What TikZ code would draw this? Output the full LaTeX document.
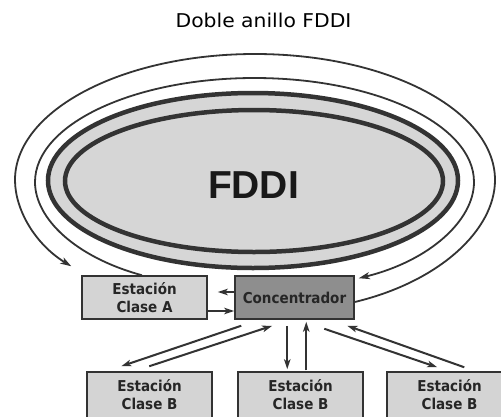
\documentclass[tikz,border=0pt]{standalone}
\usepackage{fontspec}
\usetikzlibrary{arrows.meta}
\newfontfamily\titlefont{DejaVu Sans}
\newfontfamily\stationfont{DejaVu Sans Condensed}
\newfontfamily\ringfont{Liberation Sans}
\definecolor{ink}{HTML}{333333}
\definecolor{ringfill}{HTML}{D6D6D6}
\definecolor{boxfill}{HTML}{D4D4D4}
\definecolor{hubfill}{HTML}{8E8E8E}
\tikzset{
  station/.style={draw=ink, line width=1.5pt, fill=boxfill, minimum width=125pt,
    minimum height=43pt, inner sep=0pt, align=center, text=black!85,
    font=\stationfont\bfseries\fontsize{15}{18}\selectfont},
  hub/.style={station, fill=hubfill, minimum width=119pt},
  link/.style={draw=ink, line width=2pt, -{Stealth[length=10pt,width=6.5pt,inset=2.5pt]}},
  ring/.style={draw=ink, line width=1.8pt},
  ringarrow/.style={ring, -{Stealth[length=11pt,width=7pt,inset=3pt]}},
}
\begin{document}
\begin{tikzpicture}[x=1pt,y=-1pt]
\useasboundingbox (0,0) rectangle (501,416);
\clip (0,0) rectangle (501,416);
\fill[white] (0,0) rectangle (501,416);

% title
\node[anchor=base, font=\titlefont\fontsize{19}{22}\selectfont] (title) at (263.5,27)
  {\scalebox{1.07}[1]{Doble anillo FDDI}};

% double ring
\draw[draw=ink, fill=ringfill, line width=4.5pt] (253,180.5) ellipse [x radius=205, y radius=87.5];
\draw[draw=ink, line width=4.5pt] (254,181) ellipse [x radius=189, y radius=71];
\node[anchor=base, font=\ringfont\bfseries\fontsize{39}{44}\selectfont, text=black!90] (fddi) at (253.5,198) {FDDI};

% stations and concentrator
\node[station] (A) at (144.5,297.5) {Estación\\Clase A};
\node[hub] (C) at (294.5,297.5) {Concentrador};
\node[station, minimum height=46pt] (B1) at (149.5,395) {Estación\\Clase B};
\node[station, minimum height=46pt] (B2) at (300.5,395) {Estación\\Clase B};
\node[station, minimum height=46pt] (B3) at (449.5,395) {Estación\\Clase B};

% ring ends
\coordinate (outS) at ([yshift=-4.5pt]C.east);
\coordinate (outE) at ([shift={(-10,-9)}]A.north west);
\coordinate (inS) at ([xshift=-2.5pt]A.north);
\coordinate (inE) at ([shift={(4,3)}]C.north east);

% outer ring: concentrator -> around -> station A
\draw[ringarrow] (outS) .. controls (439.6,281.7) and (495,229.8) .. (495,180)
  .. controls (495,110.4) and (387.6,54) .. (255,54)
  .. controls (122.4,54) and (15,110.4) .. (15,180)
  .. controls (15,209.8) and (35.2,244.2) .. (outE);
% inner ring: station A -> around -> concentrator
\draw[ringarrow] (inS) .. controls (75.6,257.2) and (35,218.6) .. (35,182)
  .. controls (35,124.6) and (133.3,78) .. (254.5,78)
  .. controls (375.7,78) and (474,124.6) .. (474,182)
  .. controls (474,220.4) and (429.4,260.9) .. (inE);

% links between station A and concentrator
\draw[link] ([yshift=5.5pt]C.west) -- ([yshift=5.5pt,xshift=10pt]A.east);
\draw[link] ([yshift=-13.5pt]A.east) -- ([yshift=-13.5pt]C.west);

% link end points below the concentrator
\coordinate (l1a) at ([shift={(7,6)}]C.south west);
\coordinate (l2b) at ([shift={(38,6)}]C.south west);
\coordinate (m1a) at ([shift={(53,6)}]C.south west);
\coordinate (m2b) at ([shift={(72,2)}]C.south west);
\coordinate (r1a) at ([shift={(90,9)}]C.south west);
\coordinate (r2b) at ([shift={(113,6)}]C.south west);
\coordinate (l1b) at ([shift={(35,-5)}]B1.north west);
\coordinate (l2a) at ([shift={(63,-5)}]B1.north west);
\coordinate (m1b) at ([shift={(50,-2)}]B2.north west);
\coordinate (m2a) at ([shift={(69,-1)}]B2.north west);
\coordinate (r1b) at ([shift={(51,-4)}]B3.north west);
\coordinate (r2a) at ([shift={(78,-4)}]B3.north west);

\draw[link] (l1a) -- (l1b);
\draw[link] (l2a) -- (l2b);
\draw[link] (m1a) -- (m1b);
\draw[link] (m2a) -- (m2b);
\draw[link] (r1a) -- (r1b);
\draw[link] (r2a) -- (r2b);
\end{tikzpicture}
\end{document}
